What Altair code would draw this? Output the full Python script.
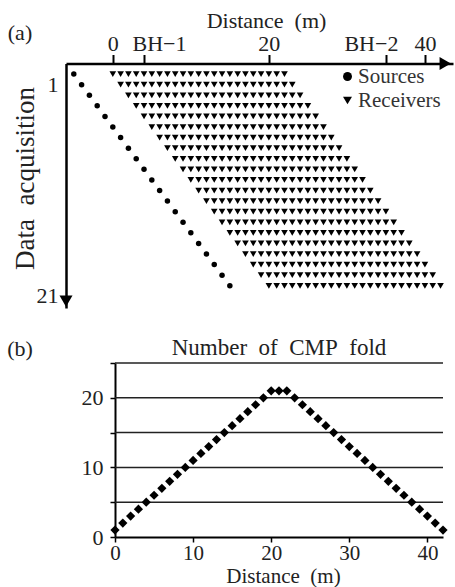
import altair as alt
import pandas as pd

FONT = "Liberation Serif"
TXT = "#222222"

# ---------------- Panel (a): acquisition geometry ----------------
acq_rows = [1, 2, 3, 4, 5, 6, 7, 8, 9, 10, 11, 12, 13, 14, 15, 16, 17, 18, 19, 20, 21]
source_x = [-5, -4, -3, -2, -1, 0, 1, 2, 3, 4, 5, 6, 7, 8, 9, 10, 11, 12, 13, 14, 15]
receiver_first_x = [0, 1, 2, 3, 4, 5, 6, 7, 8, 9, 10, 11, 12, 13, 14, 15, 16, 17, 18, 19, 20]
receivers_per_row = 23
receiver_spacing = 1

top_tick_values = [0, 4, 20, 35, 40]
top_tick_labels = ["0", "BH\u22121", "20", "BH\u22122", "40"]
left_tick_values = [1, 21]
legend_names = ["Sources", "Receivers"]

# ---------------- Panel (b): CMP fold ----------------
fold_x = [0, 1, 2, 3, 4, 5, 6, 7, 8, 9, 10, 11, 12, 13, 14, 15, 16, 17, 18, 19, 20,
          21, 22, 23, 24, 25, 26, 27, 28, 29, 30, 31, 32, 33, 34, 35, 36, 37, 38, 39, 40, 41, 42]
fold_n = [1, 2, 3, 4, 5, 6, 7, 8, 9, 10, 11, 12, 13, 14, 15, 16, 17, 18, 19, 20, 21,
          21, 21, 20, 19, 18, 17, 16, 15, 14, 13, 12, 11, 10, 9, 8, 7, 6, 5, 4, 3, 2, 1]
grid_levels = [5, 10, 15, 20, 25]
fold_x_extent = [0, 42]
bottom_tick_values = [0, 10, 20, 30, 40]
left_b_tick_values = [0, 5, 10, 15, 20, 25]

# ---------------- tables ----------------
src_df = pd.DataFrame({"type": ["Sources"] * len(acq_rows), "xa": source_x, "ya": acq_rows})
recs = []
for r, fx in zip(acq_rows, receiver_first_x):
    for k in range(receivers_per_row):
        recs.append({"type": "Receivers", "xa": fx + k * receiver_spacing, "ya": r})
rec_df = pd.DataFrame(recs)

fold_df = pd.DataFrame({"xb": fold_x, "yb": fold_n})
grid_df = pd.DataFrame({"yb": grid_levels,
                        "xb": [fold_x_extent[0]] * len(grid_levels),
                        "xb2": [fold_x_extent[1]] * len(grid_levels)})

label_expr = " : ".join(
    [f"datum.value === {v} ? '{l}'" for v, l in zip(top_tick_values, top_tick_labels)]
) + " : ''"

common_axis = dict(labelFont=FONT, labelColor=TXT, titleFont=FONT, titleColor=TXT,
                   titleFontWeight="normal", domainColor="black", tickColor="black",
                   grid=False, labelOverlap=False, labelFlush=False)

X_A = alt.X("xa:Q",
            scale=alt.Scale(domain=[-6, 43.6], range=[66, 453], nice=False, zero=False),
            axis=alt.Axis(orient="top", offset=-63.5, values=top_tick_values,
                          labelExpr=label_expr, labelFontSize=22, labelBaseline="alphabetic",
                          labelOffset={"condition": [{"test": "datum.value === 4", "value": 15},
                                                     {"test": "datum.value === 35", "value": -15}],
                                       "value": 0},
                          labelPadding=4.5, tickSize=9, tickWidth=2, domainWidth=2.5,
                          title="Distance\u2002(m)", titleFontSize=22, titleX=266, titleY=-36.5,
                          titleBaseline="alphabetic", titleAnchor="middle", titleAlign="center",
                          **common_axis))
Y_A = alt.Y("ya:Q",
            scale=alt.Scale(domain=[0, 23.1], range=[63.5, 308], nice=False, zero=False),
            axis=alt.Axis(orient="left", offset=-66, values=left_tick_values, ticks=False,
                          labelFontSize=22, labelBaseline="top", labelPadding=8, domainWidth=2.5,
                          title="Data\u2002acquisition", titleFontSize=27, titleAngle=270,
                          titleX=-33, titleY=178, titleBaseline="alphabetic", titleAlign="center",
                          **common_axis))

SHAPE = alt.Shape("type:N",
                  scale=alt.Scale(domain=legend_names, range=["circle", "triangle-down"]),
                  legend=alt.Legend(orient="none", legendX=337, legendY=66, title=None,
                                    labelFont=FONT, labelFontSize=21, labelColor="#333333",
                                    symbolSize=80, symbolFillColor="black",
                                    symbolStrokeColor="black", symbolStrokeWidth=0,
                                    labelOffset=0, rowPadding=2, labelLimit=200))

src_layer = alt.Chart(src_df).mark_point(filled=True, opacity=1, size=30).encode(
    x=X_A, y=Y_A, shape=SHAPE, color=alt.value("black"))
rec_layer = alt.Chart(rec_df).mark_point(filled=True, opacity=1, size=44).encode(
    x=X_A, y=Y_A, shape=SHAPE, color=alt.value("black"))

arrow_right = alt.Chart(pd.DataFrame({"xa": [42.6], "ya": [0]})).mark_point(
    shape="triangle-right", filled=True, size=170, color="black", opacity=1).encode(x=X_A, y=Y_A)
arrow_down = alt.Chart(pd.DataFrame({"xa": [-6], "ya": [22.45]})).mark_point(
    shape="triangle-down", filled=True, size=170, color="black", opacity=1).encode(x=X_A, y=Y_A)

panel_a = alt.layer(src_layer, rec_layer, arrow_right, arrow_down)

X_B = alt.X("xb:Q",
            scale=alt.Scale(domain=fold_x_extent, range=[115, 443], nice=False, zero=False),
            axis=alt.Axis(orient="bottom", offset=-50, values=bottom_tick_values,
                          labelFontSize=21, labelBaseline="top", labelPadding=0,
                          tickSize=5, tickWidth=1.5, domainWidth=2,
                          title="Distance\u2002(m)", titleFontSize=21, titleX=283, titleY=45.5,
                          titleBaseline="alphabetic", titleAlign="center",
                          **common_axis))
Y_B = alt.Y("yb:Q",
            scale=alt.Scale(domain=[0, 25], range=[537, 363], nice=False, zero=False),
            axis=alt.Axis(orient="left", offset=-115, values=left_b_tick_values,
                          labelExpr="datum.value % 10 === 0 ? datum.label : ''",
                          labelFontSize=22, labelBaseline="middle", labelPadding=7,
                          tickSize=5, tickWidth=1.5, domainWidth=2, title=None,
                          **common_axis))

grid_layer = alt.Chart(grid_df).mark_rule(color="#222222", strokeWidth=1.5).encode(
    x=X_B, x2="xb2:Q", y=Y_B)
fold_layer = alt.Chart(fold_df).mark_point(shape="diamond", filled=True, size=85,
                                           color="black", opacity=1).encode(x=X_B, y=Y_B)
title_b = alt.Chart(pd.DataFrame({"xb": [21.0], "yb": [27.2],
                                  "label": ["Number\u2002of\u2002CMP\u2002fold"]})).mark_text(
    font=FONT, fontSize=23, color=TXT, baseline="middle", align="center").encode(
    x=X_B, y=Y_B, text="label:N")

panel_b = alt.layer(grid_layer, fold_layer, title_b)

tag_a = alt.Chart(pd.DataFrame({"t": ["(a)"]})).mark_text(
    font=FONT, fontSize=22, color=TXT, baseline="middle", align="center").encode(
    x=alt.value(20), y=alt.value(33), text="t:N")
tag_b = alt.Chart(pd.DataFrame({"t": ["(b)"]})).mark_text(
    font=FONT, fontSize=22, color=TXT, baseline="middle", align="center").encode(
    x=alt.value(20), y=alt.value(349), text="t:N")

chart = alt.layer(panel_a, panel_b, tag_a, tag_b).resolve_scale(
    x="independent", y="independent"
).properties(
    width=455, height=587, padding=0, autosize=alt.AutoSizeParams(type="none"),
    background="white"
).configure_view(stroke=None)

chart.save("out.html", embed_options={"renderer": "svg", "actions": False})
